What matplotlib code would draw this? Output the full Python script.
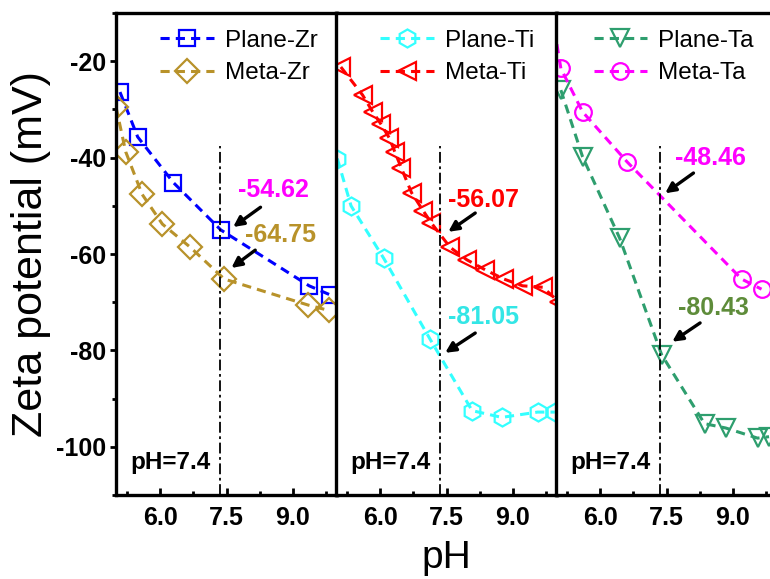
import matplotlib
matplotlib.use("Agg")
import matplotlib.pyplot as plt
from matplotlib.ticker import MultipleLocator

plt.rcParams["font.family"] = ["Liberation Sans", "DejaVu Sans"]
plt.rcParams["axes.unicode_minus"] = False

# data (pH, zeta potential in mV)
zr_plane_ph = [5.09, 5.49, 6.30, 7.37, 9.37, 9.85]
zr_plane_zeta = [-26.4, -35.7, -45.2, -55.0, -66.6, -68.5]
zr_meta_ph = [5.0, 5.22, 5.59, 6.05, 6.68, 7.45, 9.35, 9.81]
zr_meta_zeta = [-29.5, -38.8, -47.6, -53.8, -58.6, -65.2, -70.6, -71.7]

ti_plane_ph = [5.03, 5.34, 6.08, 7.13, 8.08, 8.75, 9.56, 9.95]
ti_plane_zeta = [-40.2, -50.0, -60.9, -77.7, -92.5, -93.9, -92.8, -92.8]
ti_meta_ph = [5.11, 5.60, 5.83, 6.02, 6.21, 6.33, 6.48, 6.71, 6.97, 7.16,
              7.58, 7.96, 8.38, 8.80, 9.22, 9.68, 10.05]
ti_meta_zeta = [-21.2, -27.0, -30.5, -33.1, -36.0, -38.8, -42.2, -47.3, -51.0, -53.6,
                -58.6, -61.2, -63.3, -65.2, -66.6, -66.9, -70.0]

ta_plane_ph = [5.11, 5.60, 6.44, 7.39, 8.36, 8.84, 9.56, 9.82]
ta_plane_zeta = [-26.0, -39.8, -56.7, -80.9, -95.2, -96.1, -98.2, -97.9]
ta_meta_ph = [4.85, 5.11, 5.60, 6.61, 9.20, 9.65]
ta_meta_zeta = [-7.0, -21.5, -30.5, -40.9, -65.2, -67.3]

# labelled values at pH 7.4: (text, text x, text y, arrow start, arrow end, colour)
zr_notes = [("-54.62", 7.76, -46.7, (8.27, -50.3), (7.65, -54.4), "#FF00FF"),
            ("-64.75", 7.92, -56.1, (8.15, -59.2), (7.61, -62.9), "#B8922A")]
ti_notes = [("-56.07", 7.54, -48.8, (8.15, -51.5), (7.54, -55.4), "#FF0000"),
            ("-81.05", 7.54, -73.1, (8.15, -76.4), (7.47, -80.5), "#33E6E6")]
ta_notes = [("-48.46", 7.70, -40.1, (8.11, -43.2), (7.47, -47.4), "#FF00FF"),
            ("-80.43", 7.76, -71.2, (8.26, -74.3), (7.63, -78.2), "#5E8C3A")]

VLINE_X = 7.35
VLINE_TOP = -37.5

panels = [
    [(zr_plane_ph, zr_plane_zeta, "Plane-Zr", "#0000FF", "s", 12),
     (zr_meta_ph, zr_meta_zeta, "Meta-Zr", "#B8922A", "D", 12)],
    [(ti_plane_ph, ti_plane_zeta, "Plane-Ti", "#33FFFF", "h", 13),
     (ti_meta_ph, ti_meta_zeta, "Meta-Ti", "#FF0000", "<", 13)],
    [(ta_plane_ph, ta_plane_zeta, "Plane-Ta", "#2E9E6E", "v", 13),
     (ta_meta_ph, ta_meta_zeta, "Meta-Ta", "#FF00FF", "o", 12)],
]
notes = [zr_notes, ti_notes, ta_notes]
legend_x = [0.20, 0.20, 0.17]

fig = plt.figure(figsize=(7.7, 5.79), dpi=100)
lefts = [116 / 770, 336 / 770, 556 / 770]
width = 221 / 770
bottom = 1 - 495 / 579
height = (495 - 13) / 579

for i, left in enumerate(lefts):
    ax = fig.add_axes([left, bottom, width, height])
    for xs, ys, label, color, marker, ms in panels[i]:
        ax.plot(xs, ys, linestyle=(0, (3, 2)), lw=2.2, color=color, marker=marker,
                ms=ms, mfc="none", mec=color, mew=1.6, label=label)
    ax.plot([VLINE_X, VLINE_X], [-110, VLINE_TOP], color="k", lw=1.3,
            linestyle=(0, (6, 2, 1.5, 2)))
    ax.text(5.33, -103.3, "pH=7.4", fontsize=17.5, fontweight="bold", va="center")
    for txt, tx, ty, start, end, c in notes[i]:
        ax.text(tx, ty, txt, color=c, fontsize=18, fontweight="bold", va="center")
        ax.annotate("", xy=end, xytext=start,
                    arrowprops=dict(arrowstyle="-|>", color="k", lw=2.4,
                                    mutation_scale=15, shrinkA=0, shrinkB=0))
    ax.set_xlim(5.0, 10.0)
    ax.set_ylim(-110, -10)
    ax.xaxis.set_minor_locator(MultipleLocator(0.75))
    ax.set_xticks([6.0, 7.5, 9.0])
    ax.set_xticklabels(["6.0", "7.5", "9.0"])
    ax.tick_params(axis="x", which="major", direction="in", length=5, width=2,
                   labelsize=18, pad=8)
    ax.tick_params(axis="x", which="minor", direction="in", length=3, width=2)
    for lab in ax.get_xticklabels():
        lab.set_fontweight("bold")
    for sp in ax.spines.values():
        sp.set_linewidth(2.4)
    ax.legend(loc="upper left", bbox_to_anchor=(legend_x[i], 0.965), frameon=False,
              fontsize=17.5, handlelength=2.2, handletextpad=0.45, labelspacing=0.42,
              borderaxespad=0, borderpad=0, numpoints=1)
    if i == 0:
        ax.yaxis.set_minor_locator(MultipleLocator(10))
        ax.set_yticks([-20, -40, -60, -80, -100])
        ax.tick_params(axis="y", which="major", direction="out", length=4, width=2,
                       labelsize=18, pad=3)
        ax.tick_params(axis="y", which="minor", direction="out", length=3, width=2)
        for lab in ax.get_yticklabels():
            lab.set_fontweight("bold")
        ax.set_ylabel("Zeta potential (mV)", fontsize=31, labelpad=4)
    else:
        ax.tick_params(axis="y", which="both", left=False, labelleft=False)
    if i == 1:
        ax.set_xlabel("pH", fontsize=28, labelpad=7)

fig.savefig("out.png", dpi=100)
